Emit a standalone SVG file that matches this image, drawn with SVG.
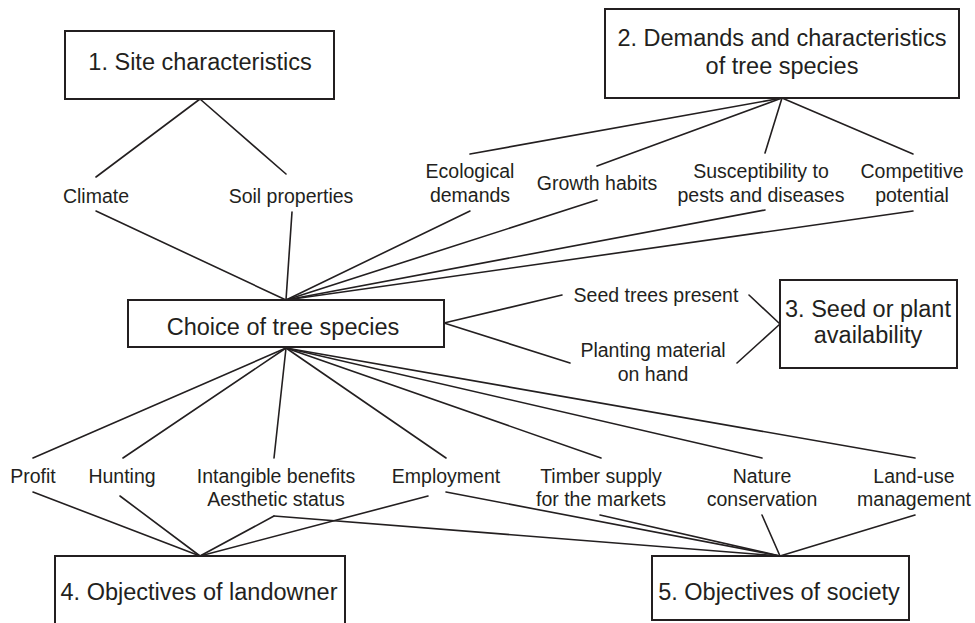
<svg xmlns="http://www.w3.org/2000/svg" width="975" height="623" viewBox="0 0 975 623">
<style>
.box{fill:#fff;stroke:#231f20;stroke-width:2}
.bt{font-family:"Liberation Sans",Arial,Helvetica,sans-serif;font-size:23.5px;fill:#231f20;text-anchor:middle}
.lt{font-family:"Liberation Sans",Arial,Helvetica,sans-serif;font-size:19.5px;fill:#231f20;text-anchor:middle}
.c{fill:none;stroke:#231f20;stroke-width:1.6;stroke-linecap:round;stroke-linejoin:round}
</style>
<rect width="975" height="623" fill="#fff"/>
<g id="connectors" class="c">
  <polyline points="96,177 200,99 286,174"/>
  <line x1="96" y1="211" x2="286" y2="300"/>
  <line x1="292" y1="212" x2="286" y2="300"/>
  <line x1="470" y1="154" x2="782" y2="98"/>
  <line x1="597" y1="166" x2="782" y2="98"/>
  <line x1="765" y1="153" x2="782" y2="98"/>
  <line x1="913" y1="154" x2="782" y2="98"/>
  <line x1="470" y1="211" x2="286" y2="300"/>
  <line x1="597" y1="200" x2="286" y2="300"/>
  <line x1="765" y1="210" x2="286" y2="300"/>
  <line x1="913" y1="211" x2="286" y2="300"/>
  <line x1="444" y1="323" x2="562" y2="295"/>
  <line x1="444" y1="323" x2="570" y2="363"/>
  <polyline points="749,295 780,324 737,363"/>
  <line x1="286" y1="348" x2="33" y2="458"/>
  <line x1="286" y1="348" x2="123" y2="458"/>
  <line x1="286" y1="348" x2="274" y2="458"/>
  <line x1="286" y1="348" x2="446" y2="458"/>
  <line x1="286" y1="348" x2="601" y2="458"/>
  <line x1="286" y1="348" x2="762" y2="458"/>
  <line x1="286" y1="348" x2="915" y2="458"/>
  <line x1="33" y1="492" x2="200" y2="556"/>
  <line x1="120" y1="496" x2="200" y2="556"/>
  <line x1="274" y1="516" x2="200" y2="556"/>
  <line x1="428" y1="496" x2="200" y2="556"/>
  <line x1="274" y1="516" x2="780" y2="556"/>
  <line x1="446" y1="492" x2="780" y2="556"/>
  <line x1="600" y1="515" x2="780" y2="556"/>
  <line x1="762" y1="515" x2="780" y2="556"/>
  <line x1="915" y1="515" x2="780" y2="556"/>
</g>
<g id="site"><rect class="box" x="65" y="31" width="269" height="68"/><text class="bt" x="200" y="70">1. Site characteristics</text></g>
<g id="demands"><rect class="box" x="605" y="9" width="354" height="89"/><text class="bt" x="782" y="46">2. Demands and characteristics</text><text class="bt" x="782" y="74">of tree species</text></g>
<g id="seed"><rect class="box" x="780" y="280" width="177" height="88"/><text class="bt" x="868" y="317">3. Seed or plant</text><text class="bt" x="868" y="343">availability</text></g>
<g id="choice"><rect class="box" x="128" y="300" width="316" height="47"/><text class="bt" x="283" y="335">Choice of tree species</text></g>
<g id="landowner"><rect class="box" x="55" y="556" width="290" height="90"/><text class="bt" x="199" y="600">4. Objectives of landowner</text></g>
<g id="society"><rect class="box" x="652" y="556" width="257" height="64"/><text class="bt" x="779" y="600">5. Objectives of society</text></g>
<g id="climate"><text class="lt" x="96" y="203">Climate</text></g>
<g id="soil"><text class="lt" x="291" y="203">Soil properties</text></g>
<g id="ecological"><text class="lt" x="470" y="178">Ecological</text><text class="lt" x="470" y="202">demands</text></g>
<g id="growth"><text class="lt" x="597" y="190">Growth habits</text></g>
<g id="susceptibility"><text class="lt" x="761" y="178">Susceptibility to</text><text class="lt" x="761" y="202">pests and diseases</text></g>
<g id="competitive"><text class="lt" x="912" y="178">Competitive</text><text class="lt" x="912" y="202">potential</text></g>
<g id="seedtrees"><text class="lt" x="656" y="302">Seed trees present</text></g>
<g id="planting"><text class="lt" x="653" y="357">Planting material</text><text class="lt" x="653" y="381">on hand</text></g>
<g id="profit"><text class="lt" x="33" y="483">Profit</text></g>
<g id="hunting"><text class="lt" x="122" y="483">Hunting</text></g>
<g id="intangible"><text class="lt" x="276" y="483">Intangible benefits</text><text class="lt" x="276" y="506">Aesthetic status</text></g>
<g id="employment"><text class="lt" x="446" y="483">Employment</text></g>
<g id="timber"><text class="lt" x="601" y="483">Timber supply</text><text class="lt" x="601" y="506">for the markets</text></g>
<g id="nature"><text class="lt" x="762" y="483">Nature</text><text class="lt" x="762" y="506">conservation</text></g>
<g id="landuse"><text class="lt" x="914" y="483">Land-use</text><text class="lt" x="914" y="506">management</text></g>
</svg>
